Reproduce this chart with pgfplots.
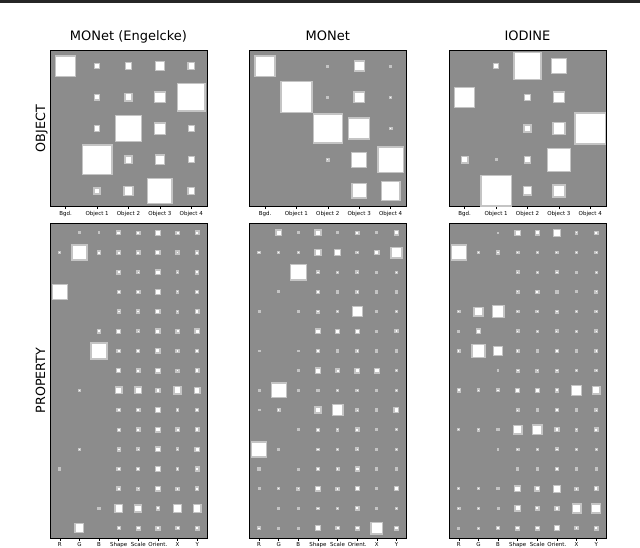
\documentclass[border=0pt]{standalone}
\usepackage{fontspec}
\setmainfont{DejaVu Sans}
\usepackage{pgfplots}
\usepackage{pgfplotstable}
\pgfplotsset{compat=1.18}

\definecolor{bg}{HTML}{8C8C8C}
\definecolor{edge}{HTML}{C4C4C4}

% square side as a fraction of the cell; empty cells left out
\pgfplotstableread[row sep=\\]{
x y s\\
0 0 .64\\ 1 0 .17\\ 2 0 .21\\ 3 0 .30\\ 4 0 .21\\
1 1 .17\\ 2 1 .23\\ 3 1 .34\\ 4 1 .87\\
1 2 .17\\ 2 2 .83\\ 3 2 .36\\ 4 2 .19\\
1 3 .94\\ 2 3 .23\\ 3 3 .30\\ 4 3 .19\\
1 4 .19\\ 2 4 .28\\ 3 4 .78\\ 4 4 .21\\
}\engobj
\pgfplotstableread[row sep=\\]{
x y s\\
0 0 .64\\ 2 0 .06\\ 3 0 .32\\ 4 0 .06\\
1 1 .99\\ 2 1 .06\\ 3 1 .34\\ 4 1 .06\\
2 2 .93\\ 3 2 .67\\ 4 2 .08\\
2 3 .08\\ 3 3 .48\\ 4 3 .80\\
3 4 .46\\ 4 4 .60\\
}\monobj
\pgfplotstableread[row sep=\\]{
x y s\\
1 0 .15\\ 2 0 .86\\ 3 0 .48\\
0 1 .64\\ 2 1 .19\\ 3 1 .34\\
2 2 .23\\ 3 2 .38\\ 4 2 .98\\
0 3 .21\\ 1 3 .06\\ 2 3 .21\\ 3 3 .73\\
1 4 .96\\ 2 4 .26\\ 3 4 .38\\
}\iodobj

\pgfplotstableread[row sep=\\]{
x y s\\
1 0 .08\\ 2 0 .08\\ 3 0 .20\\ 4 0 .17\\ 5 0 .24\\ 6 0 .17\\ 7 0 .20\\
0 1 .10\\ 1 1 .76\\ 2 1 .17\\ 3 1 .17\\ 4 1 .17\\ 5 1 .22\\ 6 1 .15\\ 7 1 .17\\
3 2 .17\\ 4 2 .13\\ 5 2 .24\\ 6 2 .12\\ 7 2 .17\\
0 3 .78\\ 3 3 .15\\ 4 3 .17\\ 5 3 .24\\ 6 3 .12\\ 7 3 .17\\
3 4 .15\\ 4 4 .15\\ 5 4 .22\\ 6 4 .13\\ 7 4 .20\\
2 5 .17\\ 3 5 .20\\ 4 5 .13\\ 5 5 .22\\ 6 5 .17\\ 7 5 .22\\
2 6 .81\\ 3 6 .17\\ 4 6 .15\\ 5 6 .22\\ 6 6 .15\\ 7 6 .17\\
3 7 .20\\ 4 7 .17\\ 5 7 .24\\ 6 7 .15\\ 7 7 .20\\
1 8 .10\\ 3 8 .34\\ 4 8 .34\\ 5 8 .20\\ 6 8 .36\\ 7 8 .30\\
3 9 .17\\ 4 9 .17\\ 5 9 .24\\ 6 9 .13\\ 7 9 .17\\
3 10 .15\\ 4 10 .17\\ 5 10 .24\\ 6 10 .17\\ 7 10 .20\\
1 11 .10\\ 3 11 .15\\ 4 11 .13\\ 5 11 .24\\ 6 11 .13\\ 7 11 .22\\
0 12 .10\\ 3 12 .17\\ 4 12 .15\\ 5 12 .24\\ 6 12 .13\\ 7 12 .20\\
3 13 .17\\ 4 13 .13\\ 5 13 .24\\ 6 13 .15\\ 7 13 .17\\
2 14 .10\\ 3 14 .38\\ 4 14 .36\\ 5 14 .17\\ 6 14 .40\\ 7 14 .38\\
1 15 .45\\ 3 15 .15\\ 4 15 .20\\ 5 15 .20\\ 6 15 .17\\ 7 15 .20\\
}\engprop
\pgfplotstableread[row sep=\\]{
x y s\\
1 0 .28\\ 2 0 .10\\ 3 0 .30\\ 4 0 .10\\ 5 0 .17\\ 6 0 .10\\ 7 0 .22\\
0 1 .13\\ 1 1 .10\\ 2 1 .10\\ 3 1 .30\\ 4 1 .33\\ 5 1 .13\\ 6 1 .22\\ 7 1 .55\\
2 2 .80\\ 3 2 .12\\ 4 2 .10\\ 5 2 .13\\ 6 2 .10\\ 7 2 .10\\
1 3 .08\\ 3 3 .15\\ 4 3 .10\\ 5 3 .13\\ 6 3 .10\\ 7 3 .10\\
0 4 .08\\ 2 4 .08\\ 3 4 .13\\ 4 4 .10\\ 5 4 .51\\ 6 4 .10\\ 7 4 .10\\
3 5 .24\\ 4 5 .20\\ 5 5 .20\\ 6 5 .10\\ 7 5 .15\\
0 6 .08\\ 2 6 .08\\ 3 6 .13\\ 4 6 .10\\ 5 6 .13\\ 6 6 .10\\ 7 6 .10\\
2 7 .07\\ 3 7 .27\\ 4 7 .17\\ 5 7 .24\\ 6 7 .24\\ 7 7 .12\\
0 8 .08\\ 1 8 .76\\ 2 8 .08\\ 3 8 .10\\ 4 8 .10\\ 5 8 .12\\ 6 8 .10\\ 7 8 .10\\
0 9 .08\\ 1 9 .13\\ 3 9 .30\\ 4 9 .55\\ 5 9 .12\\ 6 9 .10\\ 7 9 .24\\
2 10 .08\\ 3 10 .15\\ 4 10 .12\\ 5 10 .17\\ 6 10 .10\\ 7 10 .10\\
0 11 .76\\ 1 11 .08\\ 3 11 .12\\ 4 11 .12\\ 5 11 .13\\ 6 11 .10\\ 7 11 .10\\
0 12 .10\\ 2 12 .08\\ 3 12 .17\\ 4 12 .13\\ 5 12 .20\\ 6 12 .10\\ 7 12 .10\\
0 13 .08\\ 1 13 .10\\ 2 13 .13\\ 3 13 .24\\ 4 13 .15\\ 5 13 .20\\ 6 13 .10\\ 7 13 .20\\
1 14 .08\\ 2 14 .08\\ 3 14 .12\\ 4 14 .12\\ 5 14 .17\\ 6 14 .10\\ 7 14 .12\\
0 15 .13\\ 1 15 .08\\ 2 15 .08\\ 3 15 .24\\ 4 15 .17\\ 5 15 .20\\ 6 15 .60\\ 7 15 .20\\
}\monprop
\pgfplotstableread[row sep=\\]{
x y s\\
2 0 .07\\ 3 0 .27\\ 4 0 .22\\ 5 0 .37\\ 6 0 .12\\ 7 0 .17\\
0 1 .76\\ 1 1 .08\\ 2 1 .15\\ 3 1 .12\\ 4 1 .10\\ 5 1 .12\\ 6 1 .10\\ 7 1 .12\\
3 2 .13\\ 4 2 .10\\ 5 2 .13\\ 6 2 .08\\ 7 2 .10\\
3 3 .12\\ 4 3 .17\\ 5 3 .10\\ 6 3 .08\\ 7 3 .12\\
0 4 .12\\ 1 4 .45\\ 2 4 .60\\ 3 4 .12\\ 4 4 .12\\ 5 4 .13\\ 6 4 .10\\ 7 4 .12\\
0 5 .08\\ 1 5 .22\\ 3 5 .12\\ 4 5 .10\\ 5 5 .12\\ 6 5 .10\\ 7 5 .12\\
0 6 .12\\ 1 6 .66\\ 2 6 .48\\ 3 6 .12\\ 4 6 .10\\ 5 6 .13\\ 6 6 .10\\ 7 6 .12\\
2 7 .07\\ 3 7 .15\\ 4 7 .13\\ 5 7 .15\\ 6 7 .10\\ 7 7 .12\\
0 8 .17\\ 1 8 .13\\ 2 8 .15\\ 3 8 .22\\ 4 8 .20\\ 5 8 .17\\ 6 8 .50\\ 7 8 .38\\
3 9 .12\\ 4 9 .10\\ 5 9 .15\\ 6 9 .10\\ 7 9 .12\\
0 10 .10\\ 1 10 .13\\ 2 10 .10\\ 3 10 .44\\ 4 10 .48\\ 5 10 .20\\ 6 10 .12\\ 7 10 .17\\
2 11 .07\\ 3 11 .12\\ 4 11 .10\\ 5 11 .13\\ 6 11 .08\\ 7 11 .10\\
3 12 .10\\ 4 12 .10\\ 5 12 .13\\ 6 12 .10\\ 7 12 .10\\
0 13 .10\\ 1 13 .10\\ 2 13 .10\\ 3 13 .30\\ 4 13 .24\\ 5 13 .36\\ 6 13 .15\\ 7 13 .20\\
0 14 .13\\ 1 14 .12\\ 2 14 .08\\ 3 14 .27\\ 4 14 .17\\ 5 14 .20\\ 6 14 .45\\ 7 14 .45\\
0 15 .07\\ 1 15 .10\\ 2 15 .15\\ 3 15 .20\\ 4 15 .20\\ 5 15 .24\\ 6 15 .15\\ 7 15 .20\\
}\iodprop

\pgfplotsset{
  hinton/.style={
    scale only axis, width=157pt,
    axis background/.style={fill=bg},
    axis line style={black, line width=0.8pt},
    y dir=reverse, ytick=\empty, xtick=data,
    xtick pos=lower, tick align=outside,
    major tick length=2.5pt,
    every tick/.style={black, line width=0.6pt},
    xticklabel style={font=\fontsize{5.5}{6}\selectfont, yshift=1.5pt},
    title style={font=\fontsize{13}{15}\selectfont, at={(0.5,1)}, anchor=base, yshift=4pt},
  },
  objpanel/.style={hinton, height=156pt,
    xmin=-0.5, xmax=4.5, ymin=-0.5, ymax=4.5,
    xtick={0,...,4}, xticklabels={Bgd., Object 1, Object 2, Object 3, Object 4}},
  proppanel/.style={hinton, height=315pt,
    xmin=-0.5, xmax=7.5, ymin=-0.5, ymax=15.5,
    xtick={0,...,7}, xticklabels={R, G, B, Shape, Scale, Orient., X, Y}},
  boxes/.style={scatter, only marks, mark=square*,
    point meta=\thisrow{s},
    scatter/use mapped color={draw=edge, fill=white},
    mark options={line width=1.3pt},
    visualization depends on={\thisrow{s} \as \sz},
    scatter/@pre marker code/.append style={/tikz/mark size=\sz*#1}},
}

\begin{document}
\begin{tikzpicture}
\useasboundingbox (0,0) rectangle (640pt,-547pt);
\fill[black!85] (0,0) rectangle (640pt,-2.5pt);

\begin{axis}[objpanel, at={(50pt,-50.5pt)}, anchor=north west, title={MONet (Engelcke)}]
  \addplot[boxes=15.7] table {\engobj};
\end{axis}
\begin{axis}[objpanel, at={(249.3pt,-50.5pt)}, anchor=north west, title={MONet}]
  \addplot[boxes=15.7] table {\monobj};
\end{axis}
\begin{axis}[objpanel, at={(449pt,-50.5pt)}, anchor=north west, title={IODINE}]
  \addplot[boxes=15.7] table {\iodobj};
\end{axis}

\begin{axis}[proppanel, at={(50pt,-223pt)}, anchor=north west]
  \addplot[boxes=9.8] table {\engprop};
\end{axis}
\begin{axis}[proppanel, at={(249.3pt,-223pt)}, anchor=north west]
  \addplot[boxes=9.8] table {\monprop};
\end{axis}
\begin{axis}[proppanel, at={(449pt,-223pt)}, anchor=north west]
  \addplot[boxes=9.8] table {\iodprop};
\end{axis}

\node[rotate=90, anchor=base, font=\fontsize{12.7}{14}\selectfont] at (45pt,-128.5pt) {OBJECT};
\node[rotate=90, anchor=base, font=\fontsize{12.7}{14}\selectfont] at (45pt,-380.5pt) {PROPERTY};
\end{tikzpicture}
\end{document}
